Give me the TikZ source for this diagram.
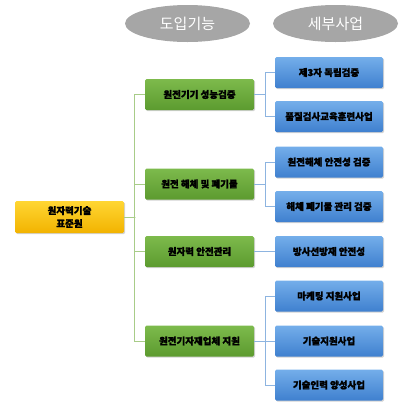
\documentclass[tikz,border=0pt]{standalone}
\usepackage{fontspec}
\newfontfamily\kr{Noto Sans CJK KR}[BoldFeatures={FakeBold=1.5}]
\usetikzlibrary{shadows,shapes.geometric}
\definecolor{gtop}{HTML}{7DBA4C}
\definecolor{gbot}{HTML}{5C9B2F}
\definecolor{btop}{HTML}{74AEEA}
\definecolor{bbot}{HTML}{3F80CF}
\definecolor{ytop}{HTML}{FFD633}
\definecolor{ybot}{HTML}{F2B300}
\definecolor{gline}{HTML}{A8CC88}
\definecolor{bline}{HTML}{8DB4E0}
\definecolor{ellg}{HTML}{A6A6A6}
\tikzset{
  base/.style={rounded corners=1.5pt, minimum height=31pt, inner sep=0pt, align=center,
    font=\kr\bfseries\fontsize{9.5}{13}\selectfont,
    drop shadow={shadow xshift=1.2pt, shadow yshift=-1.2pt, opacity=0.35}},
  gbox/.style={base, minimum width=109pt, top color=gtop, bottom color=gbot},
  bbox/.style={base, minimum width=108pt, top color=btop, bottom color=bbot},
  ybox/.style={base, minimum width=109pt, minimum height=32pt, top color=ytop, bottom color=ybot},
  hdr/.style={ellipse, fill=ellg, minimum width=125pt, minimum height=37pt, inner sep=0pt,
    text=white, font=\kr\fontsize{15}{17}\selectfont},
  gl/.style={draw=gline, line width=0.9pt},
  bl/.style={draw=bline, line width=0.9pt}
}
\begin{document}
\begin{tikzpicture}[x=1pt,y=-1pt]
\useasboundingbox (0,0) rectangle (409,413);
\node[hdr] (h1) at (187.5,23.5) {도입기능};
\node[hdr] (h2) at (335.5,23.5) {세부사업};

\node[ybox] (y) at (69.5,217) {원자력기술\\표준원};

\node[gbox] (g1) at (199.5,94.5) {원전기기 성능검증};
\node[gbox] (g2) at (199.5,184) {원전 해체 및 폐기물};
\node[gbox] (g3) at (199.5,251.5) {원자력 안전관리};
\node[gbox] (g4) at (199.5,341) {원전기자재업체 지원};

\node[bbox] (b1) at (329,72.5) {제3자 독립검증};
\node[bbox] (b2) at (329,116.5) {품질검사교육훈련사업};
\node[bbox] (b3) at (329,162) {원전해체 안전성 검증};
\node[bbox] (b4) at (329,206.5) {해체 폐기물 관리 검증};
\node[bbox] (b5) at (329,251.5) {방사선방재 안전성};
\node[bbox] (b6) at (329,296) {마케팅 지원사업};
\node[bbox] (b7) at (329,341) {기술지원사업};
\node[bbox] (b8) at (329,385) {기술인력 양성사업};

\draw[gl] (y.east) -- ++(10.5,0) coordinate (t);
\foreach \g in {g1,g2,g3,g4} \draw[gl] (\g.west) -- ++(-10,0) |- (t);

\draw[bl] (g1.east) -- ++(11,0) |- (b1.west);
\draw[bl] (g1.east) -- ++(11,0) |- (b2.west);
\draw[bl] (g2.east) -- ++(11,0) |- (b3.west);
\draw[bl] (g2.east) -- ++(11,0) |- (b4.west);
\draw[bl] (g3.east) -- (b5.west);
\draw[bl] (g4.east) -- ++(11,0) |- (b6.west);
\draw[bl] (g4.east) -- (b7.west);
\draw[bl] (g4.east) -- ++(11,0) |- (b8.west);
\end{tikzpicture}
\end{document}
